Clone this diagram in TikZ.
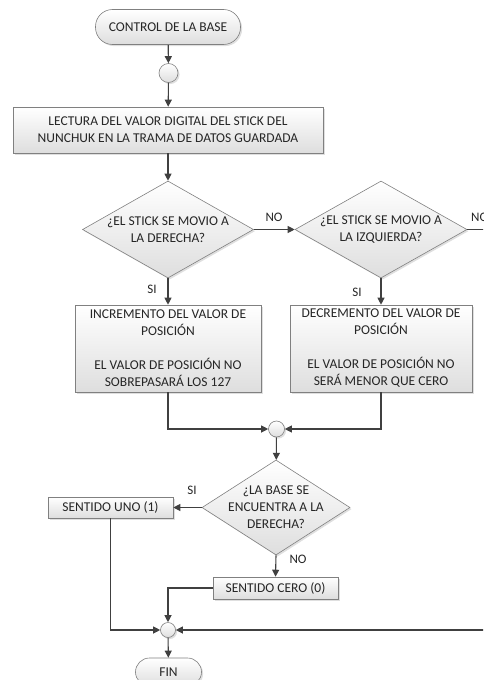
\documentclass[tikz,border=0pt]{standalone}
\usepackage{fontspec}
\setmainfont{Carlito}
\usetikzlibrary{shapes.geometric,shadows,arrows.meta}
\begin{document}
\begin{tikzpicture}[x=1pt,y=-1pt,
  font=\fontsize{13.5}{17}\selectfont,
  base/.style={draw=black!50, line width=0.6pt, top color=white, bottom color=black!13,
    text=black!85, inner sep=0pt, align=center,
    drop shadow={shadow xshift=1.6pt, shadow yshift=-1.6pt, opacity=0.25}},
  proc/.style={base, rectangle},
  term/.style={base, rectangle, rounded corners=#1},
  dec/.style={base, diamond},
  junc/.style={base, circle},
  txt/.style={text=black!85, inner sep=0pt, align=center},
  conn/.style={draw=black!75, line width=1.1pt, -{Triangle[length=7pt,width=7pt]}},
  plain/.style={draw=black!75, line width=1.1pt},
  lbl/.style={text=black!85, font=\fontsize{13}{15}\selectfont, inner sep=0pt}
]
\useasboundingbox (0,0) rectangle (483,680);
\clip (0,0) rectangle (483,680);

\node[term=17pt, minimum width=145pt, minimum height=35pt] (start) at (168,27) {CONTROL DE LA BASE};
\node[junc, minimum size=19pt] (c1) at (168.5,73) {};
\node[proc, minimum width=310pt, minimum height=46pt] (read) at (168,130)
  {LECTURA DEL VALOR DIGITAL DEL STICK DEL\\NUNCHUK EN LA TRAMA DE DATOS GUARDADA};
\node[dec, minimum width=171pt, minimum height=97pt] (d1) at (168,229.5) {};
\node[txt] (d1t) at (d1.center) {¿EL STICK SE MOVIO A\\LA DERECHA?};
\node[dec, minimum width=172pt, minimum height=97pt] (d2) at (381,229.5) {};
\node[txt] (d2t) at (d2.center) {¿EL STICK SE MOVIO A\\LA IZQUIERDA?};
\node[proc, minimum width=186pt, minimum height=87pt] (b1) at (168,348.5)
  {INCREMENTO DEL VALOR DE\\POSICIÓN\\[17pt]EL VALOR DE POSICIÓN NO\\SOBREPASARÁ LOS 127};
\node[proc, minimum width=182pt, minimum height=87pt] (b2) at (381,348.5)
  {DECREMENTO DEL VALOR DE\\POSICIÓN\\[17pt]EL VALOR DE POSICIÓN NO\\SERÁ MENOR QUE CERO};
\node[junc, minimum size=16pt] (c2) at (276.5,429) {};
\node[dec, minimum width=148pt, minimum height=95pt] (d3) at (276,507.5) {};
\node[txt] (d3t) at (d3.center) {¿LA BASE SE\\ENCUENTRA A LA\\DERECHA?};
\node[proc, minimum width=125pt, minimum height=21pt] (su) at (110.5,507.5) {SENTIDO UNO (1)};
\node[proc, minimum width=125pt, minimum height=22pt] (sc) at (275.5,588) {SENTIDO CERO (0)};
\node[junc, minimum size=15pt] (c3) at (168,630) {};
\node[term=14pt, minimum width=66pt, minimum height=28pt] (fin) at (168.5,672) {FIN};

\coordinate (e2) at (490,229.5);
\coordinate (e3) at (490,630);

\draw[conn] (start) -- (c1);
\draw[conn] (c1) -- (read);
\draw[conn] (read) -- (d1);
\draw[conn] (d1.east) -- (d2.west);
\draw[plain] (d2.east) -- (e2);
\draw[conn] (d1.south) -- (b1.north);
\draw[conn] (d2.south) -- (b2.north);
\draw[conn] (b1.south) |- (c2.west);
\draw[conn] (b2.south) |- (c2.east);
\draw[conn] (c2) -- (d3);
\draw[conn] (d3.west) -- (su.east);
\draw[conn] (d3.south) -- (sc.north);
\draw[conn] (sc.west) -| (c3.north);
\draw[conn] (su.south) |- (c3.west);
\draw[conn] (e3) -- (c3.east);
\draw[conn] (c3) -- (fin);

\node[lbl] (no1) at (274,217) {NO};
\node[lbl, anchor=west] (no2) at (471,217) {NO};
\node[lbl] (si1) at (152,289) {SI};
\node[lbl] (si2) at (357,292) {SI};
\node[lbl] (si3) at (192,490) {SI};
\node[lbl] (no3) at (298,559) {NO};
\end{tikzpicture}
\end{document}
